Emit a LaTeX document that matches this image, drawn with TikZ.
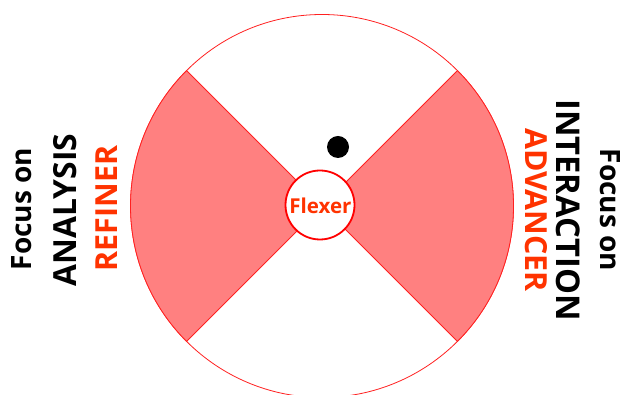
\documentclass[tikz,border=0pt]{standalone}
\usepackage{fontspec}
\setmainfont{Open Sans}
\usepackage{tikz}
\definecolor{sectorred}{HTML}{FF8080}
\definecolor{edgered}{HTML}{FF2020}
\definecolor{labelred}{HTML}{FF3300}

\begin{document}
\begin{tikzpicture}[x=1pt, y=1pt,
    sector/.style={fill=sectorred, draw=edgered, line width=0.8pt},
    lbl/.style={anchor=base, inner sep=0pt, font=\bfseries\fontsize{#1}{#1}\selectfont},
    lbl/.default=30]
  \useasboundingbox (0,0) rectangle (621,395);
  \coordinate (O) at (322,189);
  \draw[edgered, line width=0.8pt, fill=white] (O) circle (191.5);
  \draw[sector] (O) -- ++(135:191.5) arc (135:225:191.5) -- cycle;
  \draw[sector] (O) -- ++(-45:191.5) arc (-45:45:191.5) -- cycle;
  \node[circle, draw=red, line width=1.8pt, fill=white, minimum size=69pt, inner sep=0pt] (flex) at (320,190) {};
  \node[lbl=20.5, text=labelred] (flexlbl) at (320.5,181) {Flexer};
  \node[circle, fill=black, minimum size=22pt, inner sep=0pt] (dot) at (338,248) {};
  % left side
  \node[lbl=28, rotate=90] (focusL) at (31.7,186) {Focus on};
  \node[lbl=31.8, rotate=90] (analysis) at (76,185) {ANALYSIS};
  \node[lbl=30.4, rotate=90, text=labelred] (refiner) at (117,186.5) {REFINER};
  % right side
  \node[lbl=28, rotate=-90] (focusR) at (600,185) {Focus on};
  \node[lbl=32.7, rotate=-90] (interaction) at (556.7,185) {INTERACTION};
  \node[lbl=30.4, rotate=-90, text=labelred] (advancer) at (525,185) {ADVANCER};
\end{tikzpicture}
\end{document}
